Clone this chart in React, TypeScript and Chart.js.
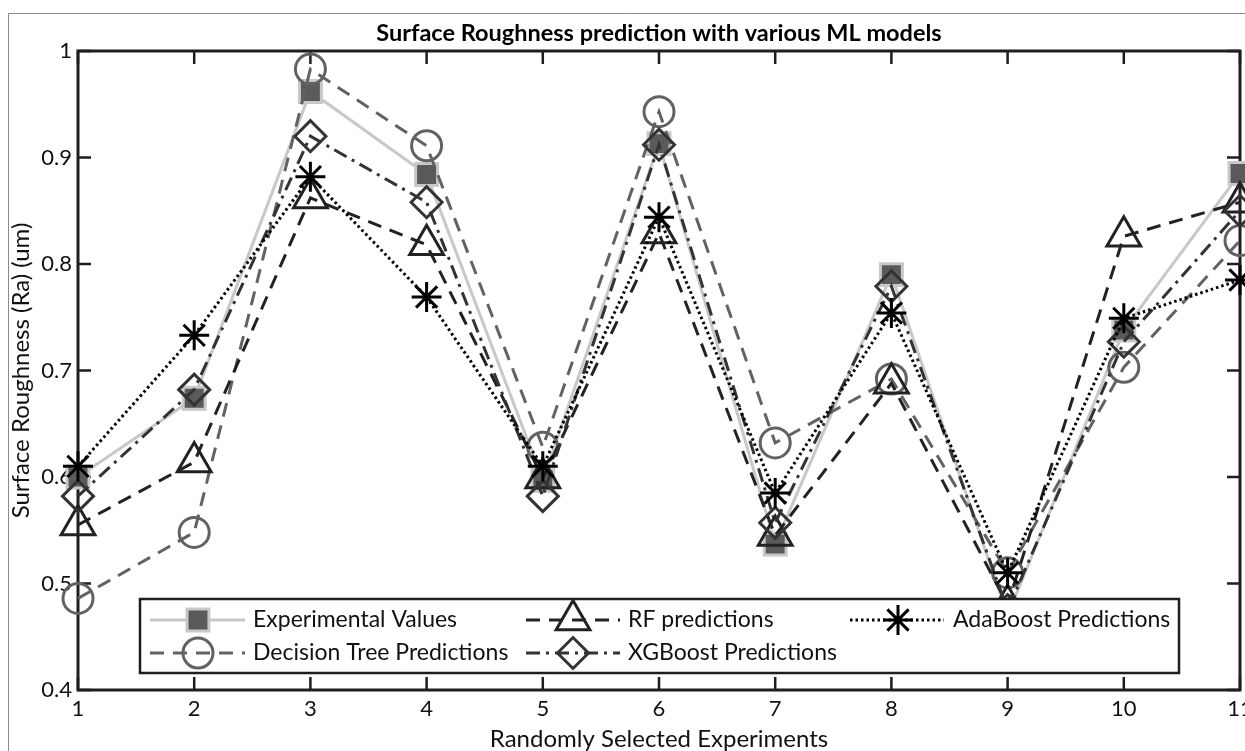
import React, { useEffect, useRef } from "react";
import { Chart, registerables } from "chart.js";
import { drawPoint } from "chart.js/helpers";

Chart.register(...registerables);

// ---------- data ----------
const categories = ["1", "2", "3", "4", "5", "6", "7", "8", "9", "10", "11"];
const experimental = [0.600, 0.674, 0.962, 0.884, 0.597, 0.913, 0.537, 0.790, 0.470, 0.738, 0.885];
const decisionTree = [0.486, 0.548, 0.983, 0.911, 0.628, 0.943, 0.632, 0.692, 0.510, 0.703, 0.822];
const rfPredictions = [0.555, 0.614, 0.862, 0.818, 0.599, 0.829, 0.545, 0.688, 0.480, 0.826, 0.858];
const xgbPredictions = [0.582, 0.682, 0.920, 0.858, 0.582, 0.912, 0.557, 0.779, 0.475, 0.727, 0.850];
const adaPredictions = [0.610, 0.733, 0.882, 0.769, 0.610, 0.844, 0.585, 0.754, 0.510, 0.749, 0.785];
const yTickValues = [0.4, 0.5, 0.6, 0.7, 0.8, 0.9, 1.0];
const yTickLabels = ["0.4", "0.5", "0.6", "0.7", "0.8", "0.9", "1"];
const seriesNames = [
  "Experimental Values",
  "Decision Tree Predictions",
  "RF predictions",
  "XGBoost Predictions",
  "AdaBoost Predictions",
];
const chartTitle = "Surface Roughness prediction with various ML models";
const xTitle = "Randomly Selected Experiments";
const yTitle = "Surface Roughness (Ra) (um)";

const FONT = "Lato, 'Open Sans', sans-serif";
const W = 1245;
const H = 751;

// legend layout (box + entry slots)
const legendBox = { left: 140, top: 599, right: 1179, bottom: 673 };
const legendSlots = [
  { x0: 150, x1: 245, xm: 198, xt: 253, y: 620 },
  { x0: 150, x1: 245, xm: 198, xt: 253, y: 653 },
  { x0: 526, x1: 620, xm: 573, xt: 628, y: 620 },
  { x0: 526, x1: 620, xm: 573, xt: 628, y: 653 },
  { x0: 850, x1: 944, xm: 898, xt: 953, y: 620 },
];

const framePlugin = {
  id: "frame",
  beforeDraw(chart: any) {
    const ctx = chart.ctx;
    ctx.save();
    ctx.fillStyle = "#ffffff";
    ctx.fillRect(0, 0, chart.width, chart.height);
    ctx.strokeStyle = "#8a8a8a";
    ctx.lineWidth = 1;
    ctx.beginPath();
    ctx.moveTo(8.5, chart.height);
    ctx.lineTo(8.5, 13.5);
    ctx.lineTo(chart.width, 13.5);
    ctx.stroke();
    ctx.restore();
  },
  beforeDatasetsDraw(chart: any) {
    const ctx = chart.ctx;
    const { left, right, top, bottom } = chart.chartArea;
    const xs = chart.scales.x;
    const ys = chart.scales.y;
    ctx.save();
    ctx.strokeStyle = "#1e1e1e";
    ctx.lineWidth = 3;
    ctx.strokeRect(left, top, right - left, bottom - top);
    ctx.lineWidth = 2.5;
    const tl = 13;
    ctx.beginPath();
    categories.forEach((_, i) => {
      const px = xs.getPixelForValue(i);
      ctx.moveTo(px, bottom);
      ctx.lineTo(px, bottom - tl);
      ctx.moveTo(px, top);
      ctx.lineTo(px, top + tl);
    });
    yTickValues.forEach((v) => {
      const py = ys.getPixelForValue(v);
      ctx.moveTo(left, py);
      ctx.lineTo(left + tl, py);
      ctx.moveTo(right, py);
      ctx.lineTo(right - tl, py);
    });
    ctx.stroke();
    ctx.restore();
  },
};

const legendPlugin = {
  id: "matlabLegend",
  afterDatasetsDraw(chart: any) {
    const ctx = chart.ctx;
    ctx.save();
    const b = legendBox;
    ctx.fillStyle = "#ffffff";
    ctx.fillRect(b.left, b.top, b.right - b.left, b.bottom - b.top);
    ctx.strokeStyle = "#1e1e1e";
    ctx.lineWidth = 2.5;
    ctx.strokeRect(b.left, b.top, b.right - b.left, b.bottom - b.top);
    chart.data.datasets.forEach((ds: any, i: number) => {
      const s = legendSlots[i];
      ctx.save();
      ctx.setLineDash(ds.borderDash || []);
      ctx.strokeStyle = ds.borderColor;
      ctx.lineWidth = ds.borderWidth;
      ctx.beginPath();
      ctx.moveTo(s.x0, s.y);
      ctx.lineTo(s.x1, s.y);
      ctx.stroke();
      ctx.setLineDash([]);
      ctx.fillStyle = ds.pointBackgroundColor;
      ctx.strokeStyle = ds.pointBorderColor;
      ctx.lineWidth = ds.pointBorderWidth;
      drawPoint(
        ctx,
        { pointStyle: ds.pointStyle, radius: ds.pointRadius, borderWidth: ds.pointBorderWidth, rotation: 0 },
        s.xm,
        s.y
      );
      ctx.restore();
      ctx.fillStyle = "#111";
      ctx.font = `23px ${FONT}`;
      ctx.textBaseline = "middle";
      ctx.textAlign = "left";
      ctx.fillText(ds.label, s.xt, s.y);
    });
    ctx.restore();
  },
};

export default function App() {
  const canvasRef = useRef<HTMLCanvasElement | null>(null);

  useEffect(() => {
    const canvas = canvasRef.current;
    if (!canvas) return;
    const common = { clip: false as any, tension: 0 };
    const chart = new Chart(canvas, {
      type: "line",
      data: {
        labels: categories,
        datasets: [
          {
            ...common,
            label: seriesNames[0],
            data: experimental,
            borderColor: "#c8c8c8",
            borderWidth: 3,
            borderDash: [],
            pointStyle: "rect",
            pointRadius: 15.5,
            pointBackgroundColor: "#5a5a5a",
            pointBorderColor: "#c8c8c8",
            pointBorderWidth: 3,
            order: 5,
          },
          {
            ...common,
            label: seriesNames[1],
            data: decisionTree,
            borderColor: "#626262",
            borderWidth: 3,
            borderDash: [14, 9],
            pointStyle: "circle",
            pointRadius: 15,
            pointBackgroundColor: "rgba(0,0,0,0)",
            pointBorderColor: "#626262",
            pointBorderWidth: 3,
            order: 4,
          },
          {
            ...common,
            label: seriesNames[2],
            data: rfPredictions,
            borderColor: "#222222",
            borderWidth: 3,
            borderDash: [14, 9],
            pointStyle: "triangle",
            pointRadius: 19.5,
            pointBackgroundColor: "rgba(0,0,0,0)",
            pointBorderColor: "#222222",
            pointBorderWidth: 3,
            order: 3,
          },
          {
            ...common,
            label: seriesNames[3],
            data: xgbPredictions,
            borderColor: "#333333",
            borderWidth: 3,
            borderDash: [14, 6, 3, 6],
            pointStyle: "rectRot",
            pointRadius: 15.5,
            pointBackgroundColor: "rgba(0,0,0,0)",
            pointBorderColor: "#333333",
            pointBorderWidth: 3,
            order: 2,
          },
          {
            ...common,
            label: seriesNames[4],
            data: adaPredictions,
            borderColor: "#000000",
            borderWidth: 3,
            borderDash: [2.5, 3],
            pointStyle: "star",
            pointRadius: 15,
            pointBackgroundColor: "rgba(0,0,0,0)",
            pointBorderColor: "#000000",
            pointBorderWidth: 3,
            order: 1,
          },
        ],
      },
      options: {
        animation: false,
        responsive: false,
        devicePixelRatio: 1,
        events: [],
        layout: { autoPadding: false, padding: { left: 0, right: 5, top: 0, bottom: 0 } },
        plugins: {
          legend: { display: false },
          tooltip: { enabled: false },
          title: {
            display: true,
            text: chartTitle,
            fullSize: false,
            color: "#000",
            font: { family: FONT, size: 23.5, weight: "bold", lineHeight: 1.2 },
            padding: { top: 19.4, bottom: 3.4 },
          },
        },
        scales: {
          x: {
            type: "category",
            offset: false,
            grid: { display: false, drawTicks: false },
            border: { display: false },
            ticks: {
              color: "#111",
              font: { family: FONT, size: 22 },
              padding: 6,
              maxRotation: 0,
              autoSkip: false,
            },
            title: {
              display: true,
              text: xTitle,
              color: "#111",
              font: { family: FONT, size: 24, lineHeight: 1.2 },
              padding: { top: 0, bottom: -3 },
            },
            afterFit: (scale: any) => {
              scale.height = 61;
              scale.paddingLeft = 0;
              scale.paddingRight = 0;
            },
          },
          y: {
            type: "linear",
            min: 0.4,
            max: 1.0,
            grid: { display: false, drawTicks: false },
            border: { display: false },
            afterBuildTicks: (scale: any) => {
              scale.ticks = yTickValues.map((v) => ({ value: v }));
            },
            ticks: {
              color: "#111",
              font: { family: FONT, size: 22 },
              padding: 6,
              callback: (v: any) => {
                const idx = yTickValues.findIndex((t) => Math.abs(t - Number(v)) < 1e-9);
                return idx >= 0 ? yTickLabels[idx] : "";
              },
            },
            title: {
              display: true,
              text: yTitle,
              color: "#111",
              font: { family: FONT, size: 24, lineHeight: 1.2 },
              padding: { top: 7, bottom: 0 },
            },
            afterFit: (scale: any) => {
              scale.width = 78;
              scale.paddingTop = 0;
              scale.paddingBottom = 0;
            },
          },
        },
      },
      plugins: [framePlugin, legendPlugin],
    } as any);
    return () => chart.destroy();
  }, []);

  return (
    <div style={{ position: "fixed", left: 0, top: 0, width: W, height: H, background: "#fff" }}>
      <canvas ref={canvasRef} width={W} height={H} style={{ display: "block", width: W, height: H }} />
    </div>
  );
}
